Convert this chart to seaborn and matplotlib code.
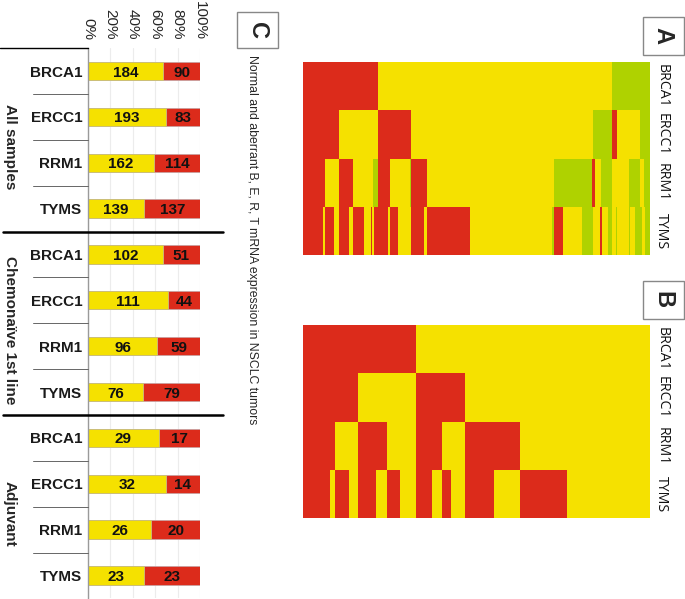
import numpy as np
import pandas as pd
import matplotlib
matplotlib.use("Agg")
import matplotlib.pyplot as plt
import seaborn as sns
from matplotlib.colors import ListedColormap
from matplotlib.patches import Rectangle
from matplotlib.lines import Line2D
from matplotlib import transforms

# Panel C data (counts per group / gene)
genes = ["BRCA1", "ERCC1", "RRM1", "TYMS"]
groups = ["All samples", "Chemonaïve 1st line", "Adjuvant"]
normal = [184, 193, 162, 139, 102, 111, 96, 76, 29, 32, 26, 23]
aberrant = [90, 83, 114, 137, 51, 44, 59, 79, 17, 14, 20, 23]

# Panel A heatmap: runs of (status, n samples); r = low, y = normal, g = high
A_BRCA1 = [("r", 60), ("y", 186), ("g", 30)]
A_ERCC1 = [("r", 29), ("y", 31), ("r", 26), ("y", 145), ("g", 15), ("r", 4), ("y", 18), ("g", 8)]
A_RRM1 = [("r", 18), ("y", 11), ("r", 11), ("y", 16), ("g", 4), ("r", 9), ("y", 16), ("g", 1),
          ("r", 13), ("y", 101), ("g", 30), ("r", 2), ("y", 5), ("g", 9), ("y", 13), ("g", 9),
          ("y", 3), ("g", 5)]
A_TYMS = [("r", 16), ("y", 2), ("r", 7), ("y", 4), ("r", 8), ("y", 3), ("r", 9), ("y", 5),
          ("r", 1), ("y", 2), ("r", 11), ("y", 1), ("r", 7), ("y", 10), ("r", 10), ("y", 3),
          ("r", 34), ("y", 65), ("g", 2), ("r", 7), ("y", 15), ("g", 9), ("y", 5), ("r", 2),
          ("y", 5), ("g", 3), ("y", 3), ("g", 1), ("y", 9), ("g", 1), ("y", 4), ("g", 6),
          ("y", 2), ("g", 4)]

# Panel B heatmap: aberrant (r) vs normal (y)
B_BRCA1 = [("r", 90), ("y", 186)]
B_ERCC1 = [("r", 44), ("y", 46), ("r", 39), ("y", 147)]
B_RRM1 = [("r", 26), ("y", 18), ("r", 23), ("y", 23), ("r", 21), ("y", 18), ("r", 44), ("y", 103)]
B_TYMS = [("r", 22), ("y", 4), ("r", 11), ("y", 7), ("r", 14), ("y", 9), ("r", 10), ("y", 13),
          ("r", 13), ("y", 8), ("r", 7), ("y", 11), ("r", 23), ("y", 21), ("r", 37), ("y", 66)]

RED = "#dc2b1b"
YELLOW = "#f5e100"
GREEN = "#afd200"
code = {"r": 0, "y": 1, "g": 2}


def expand(runs):
    return np.concatenate([np.full(n, code[c]) for c, n in runs])


sns.set_style("white")
plt.rcParams["font.family"] = ["Liberation Sans", "DejaVu Sans"]

W, H = 685, 599
fig = plt.figure(figsize=(W / 100, H / 100), dpi=100)


def rect(x0, y0, x1, y1):
    return [x0 / W, 1 - y1 / H, (x1 - x0) / W, (y1 - y0) / H]


# ---- Panel C: stacked percentage bars
axC = fig.add_axes(rect(88, 48.07, 200, 598.4))
df = pd.DataFrame({
    "row": [str(i) for i in range(12)],
    "gene": genes * 3,
    "normal": normal,
    "aberrant": aberrant,
})
df["total"] = df["normal"] + df["aberrant"]
df["normal_pct"] = 100 * df["normal"] / df["total"]
df["all_pct"] = 100.0

sns.barplot(data=df, x="all_pct", y="row", orient="h", color=RED, saturation=1, width=0.4,
            edgecolor="#c9a0a0", linewidth=0.6, errorbar=None, ax=axC)
sns.barplot(data=df, x="normal_pct", y="row", orient="h", color=YELLOW, saturation=1, width=0.4,
            edgecolor="#c8c080", linewidth=0.6, errorbar=None, ax=axC)

for i, r in df.iterrows():
    axC.text(r["normal_pct"] / 2, i, str(r["normal"]), ha="center", va="center_baseline",
             fontsize=11, fontweight="bold", color="#111")
    axC.text(r["normal_pct"] + (100 - r["normal_pct"]) / 2, i, str(r["aberrant"]),
             ha="center", va="center_baseline", fontsize=11, fontweight="bold", color="#111")

axC.set_xlim(0, 100)
axC.set_ylim(11.5, -0.5)
axC.set_xlabel("")
axC.set_ylabel("")
axC.xaxis.tick_top()
axC.set_xticks([0, 20, 40, 60, 80, 100])
axC.set_xticklabels([f"{v}%" for v in [0, 20, 40, 60, 80, 100]], rotation=-90, fontsize=11)
axC.tick_params(axis="x", length=0, pad=6)
axC.set_yticks(range(12))
axC.set_yticklabels(df["gene"], fontsize=11, fontweight="bold", color="#1a1a1a")
axC.tick_params(axis="y", length=0, pad=4)
axC.grid(axis="x", color="#ececec", lw=0.8)
axC.set_axisbelow(True)
for s in ["top", "right", "bottom"]:
    axC.spines[s].set_visible(False)
axC.spines["left"].set_color("#9a9a9a")
axC.spines["left"].set_linewidth(1)

trans = transforms.blended_transform_factory(fig.transFigure, axC.transData)
for b in [0.5, 1.5, 2.5, 4.5, 5.5, 6.5, 8.5, 9.5, 10.5]:
    fig.add_artist(Line2D([33 / W, 88 / W], [b, b], transform=trans, color="#666", lw=0.7))
for b in [3.5, 7.5]:
    fig.add_artist(Line2D([3 / W, 223 / W], [b, b], transform=trans, color="black", lw=1.8))
fig.add_artist(Line2D([0, 88 / W], [-0.5, -0.5], transform=trans, color="black", lw=1))

for k, g in enumerate(groups):
    fig.text(10 / W, 4 * k + 1.5 + 0.15, g, transform=trans, rotation=-90, ha="center",
             va="center", fontsize=11, fontweight="bold")

fig.text(252 / W, 1 - 55 / H, "Normal and aberrant B, E, R, T mRNA expression in NSCLC tumors",
         rotation=-90, ha="center", va="top", fontsize=8.8)

# ---- Panels A and B: heatmaps
cmap = ListedColormap([RED, YELLOW, GREEN])
matA = np.vstack([expand(r) for r in [A_BRCA1, A_ERCC1, A_RRM1, A_TYMS]])
matB = np.vstack([expand(r) for r in [B_BRCA1, B_ERCC1, B_RRM1, B_TYMS]])

for mat, box in [(matA, (302.7, 62, 650, 255)), (matB, (302.7, 325, 650, 518.3))]:
    ax = fig.add_axes(rect(*box))
    sns.heatmap(mat, cmap=cmap, vmin=-0.5, vmax=2.5, cbar=False, ax=ax,
                xticklabels=False, yticklabels=genes)
    ax.yaxis.tick_right()
    ax.set_yticklabels(genes, rotation=-90, va="center", ha="left", fontsize=10.2,
                       family=["Open Sans", "DejaVu Sans"], color="#111")
    ax.tick_params(axis="y", length=0, pad=3)

# ---- panel letters
for letter, (x0, y0, x1, y1) in [("A", (642.7, 16.7, 684, 55)), ("B", (642.7, 281, 684, 319)),
                                 ("C", (236.7, 11.7, 278.3, 48.3))]:
    fig.add_artist(Rectangle((x0 / W, 1 - y1 / H), (x1 - x0) / W, (y1 - y0) / H,
                             transform=fig.transFigure, fc="white", ec="#888", lw=1))
    fig.text((x0 + x1) / 2 / W, 1 - (y0 + y1) / 2 / H, letter, rotation=-90, ha="center",
             va="center", fontsize=17, fontweight="bold")

fig.savefig("out.png", dpi=100)
